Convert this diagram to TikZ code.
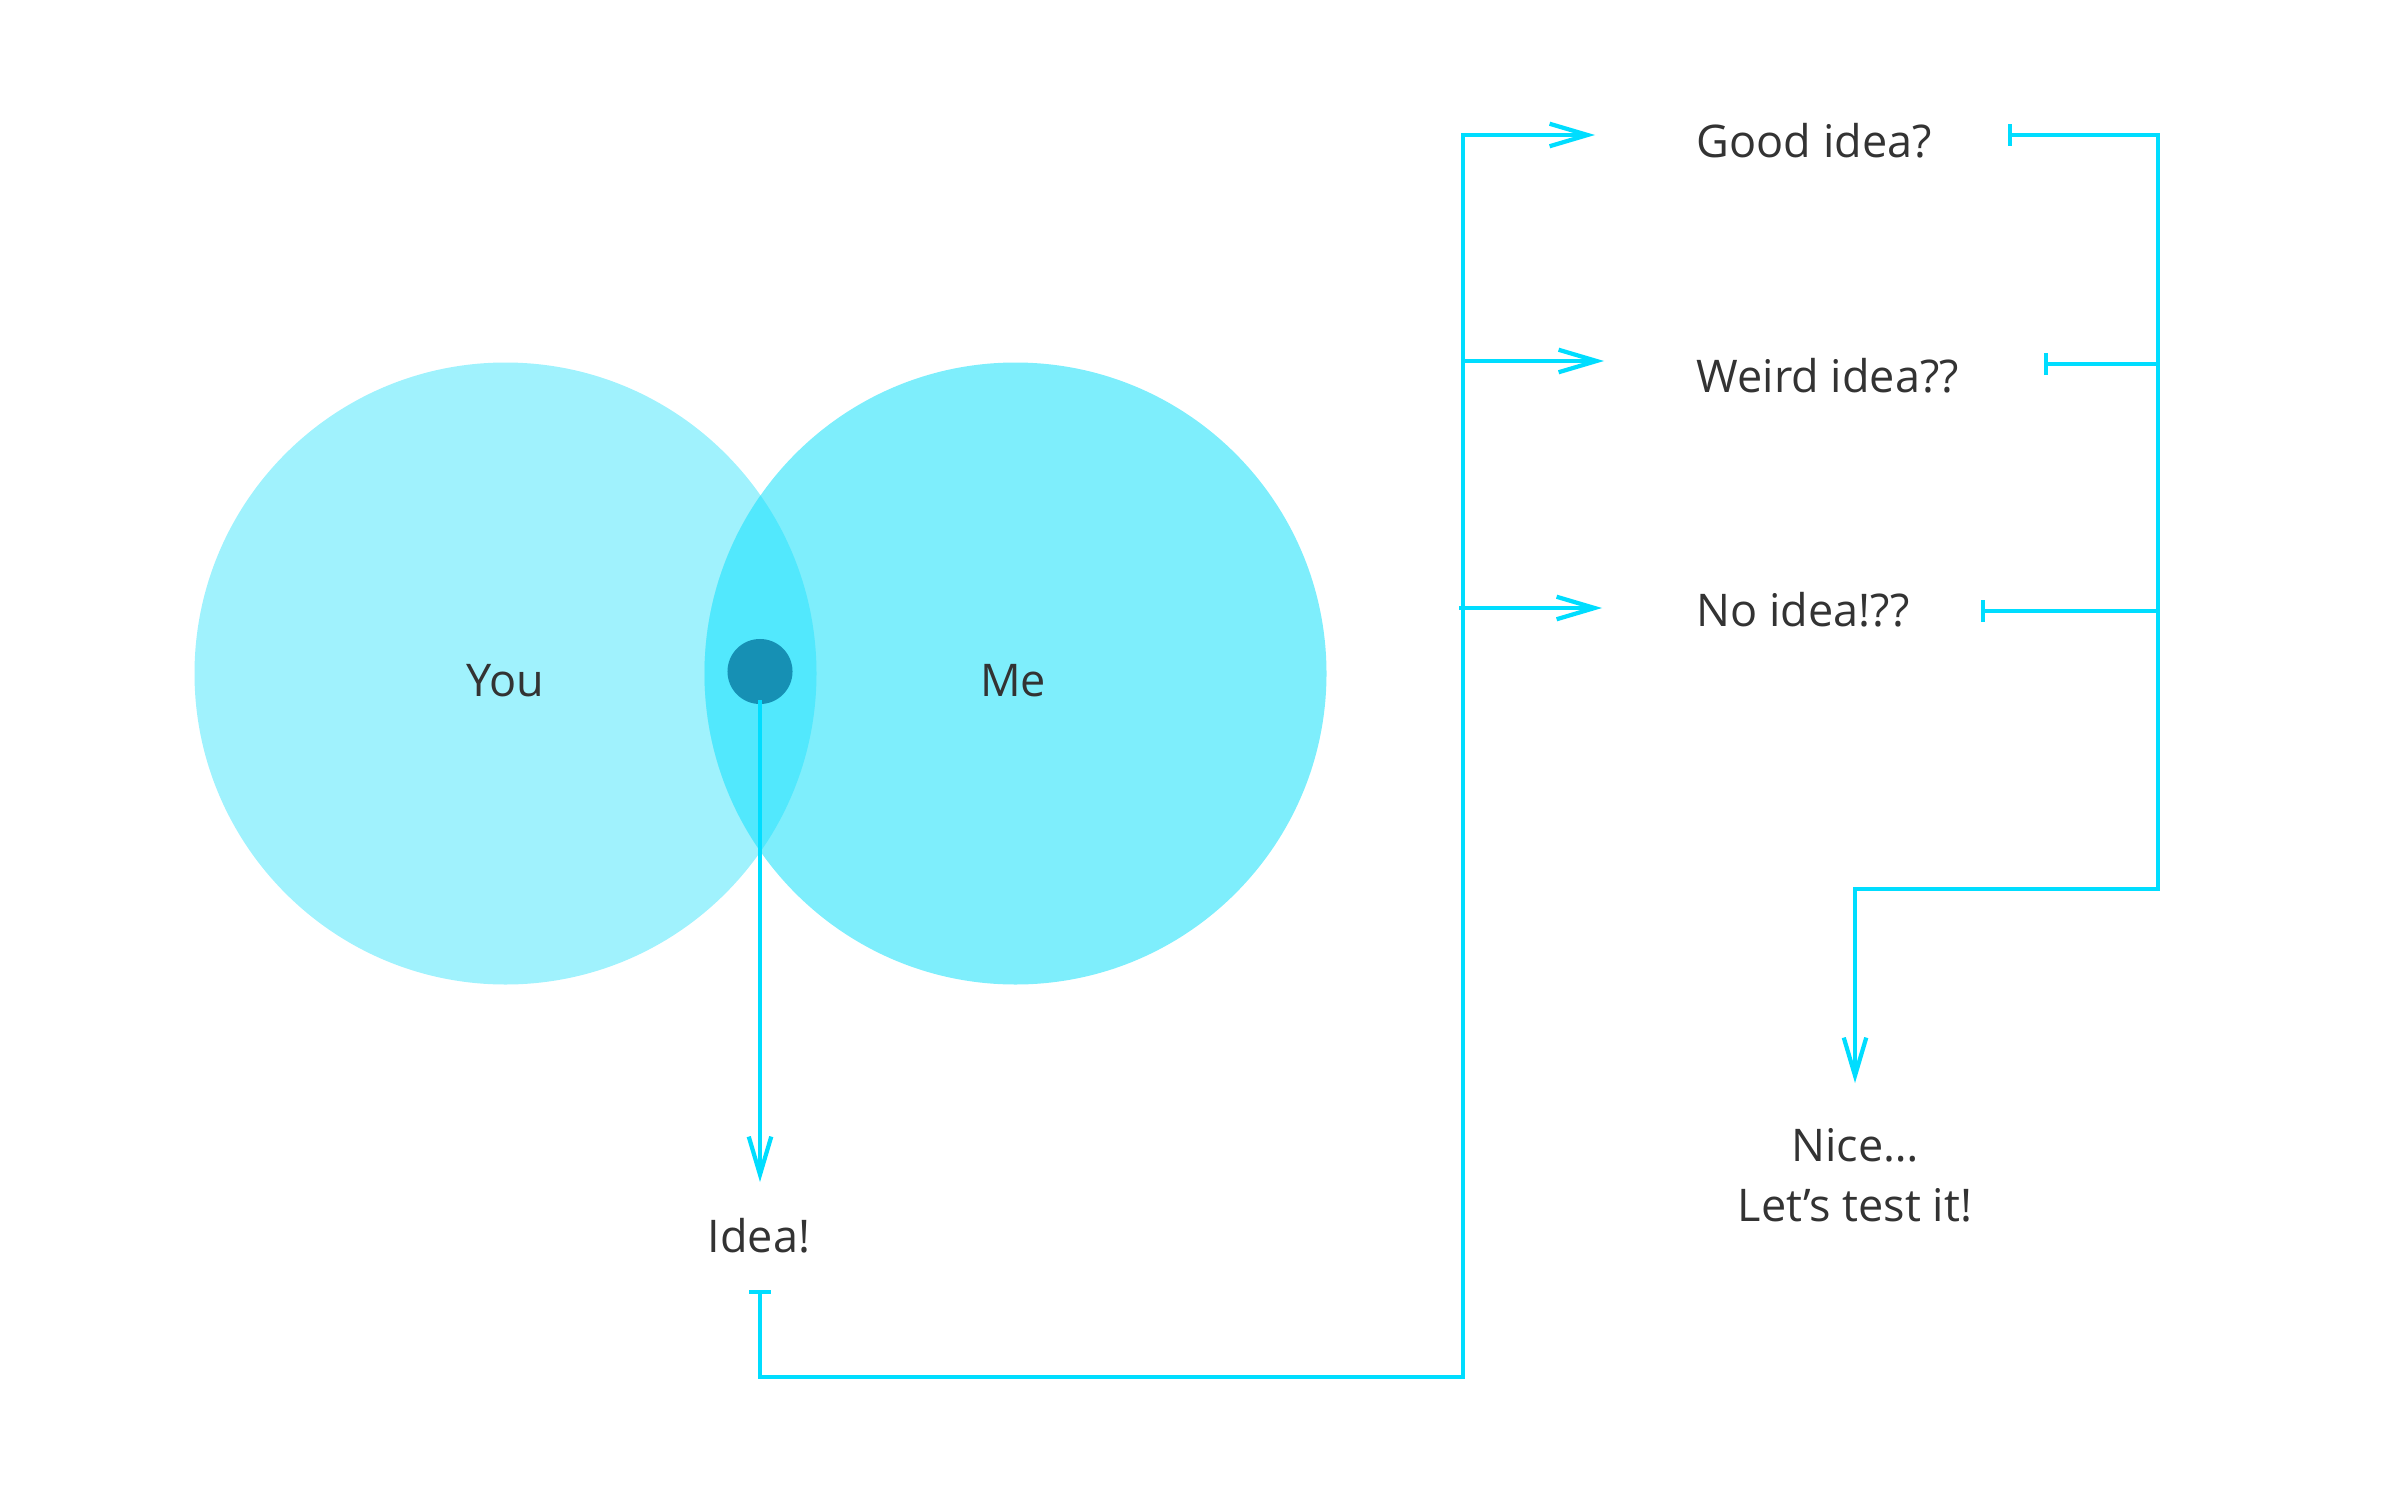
\documentclass[tikz,border=0pt]{standalone}
\usepackage{fontspec}
\setmainfont{Open Sans}
\usetikzlibrary{arrows.meta}
\definecolor{youfill}{HTML}{A0F2FD}
\definecolor{mefill}{HTML}{7EEEFC}
\definecolor{lensfill}{HTML}{52E8FD}
\definecolor{dotfill}{HTML}{1690B4}
\definecolor{wire}{HTML}{00DDFF}
\definecolor{ink}{HTML}{333333}
\tikzset{
  label/.style={text=ink, font=\fontsize{12.8}{16.8}\selectfont, inner sep=0pt},
  link/.style={draw=wire, line width=1.2pt},
  barbtip/.style={-{Straight Barb[length=10.8pt,width=6.4pt,line width=1.2pt]}},
  bartip/.style={{Bar[width=6pt,line width=1.2pt]}-},
  bartipend/.style={{Bar[width=6pt,line width=1.2pt]}-{Straight Barb[length=10.8pt,width=6.4pt,line width=1.2pt]}},
}
\begin{document}
\begin{tikzpicture}[x=0.01cm, y=-0.01cm]
\useasboundingbox (0,0) rectangle (2400,1500);

% the two sets and their overlap
\fill[youfill] (505.5,673.5) circle (311);
\fill[mefill] (1015.5,673.5) circle (311);
\begin{scope}
  \clip (505.5,673.5) circle (311);
  \fill[lensfill] (1015.5,673.5) circle (311);
\end{scope}
\node[circle, fill=dotfill, minimum size=65*0.2845pt, inner sep=0pt] (dot) at (760,671.5) {};

% labels
\node[label, anchor=base] (you) at (505,696) {You};
\node[label, anchor=base] (me) at (1013,696) {Me};
\node[label, anchor=base] (idea) at (759,1252) {Idea!};
\node[label, anchor=base west] (good) at (1696,158) {Good idea?};
\node[label, anchor=base west] (weird) at (1696,392) {Weird idea??};
\node[label, anchor=base west] (noidea) at (1696,626) {No idea!??};
\node[label, anchor=base, align=center] (nice) at (1855,1221) {Nice…\\Let’s test it!};

% routing points
\coordinate (dotout) at (760,700);
\coordinate (ideain) at (760,1182);
\coordinate (ideaout) at (760,1290);
\coordinate (busL) at (1463,1377);
\coordinate (goodin) at (1595,135);
\coordinate (weirdin) at (1604,361);
\coordinate (noideain) at (1602,608);
\coordinate (weirdtap) at (1463,361);
\coordinate (noideatap) at (1459,608);
\coordinate (goodout) at (2008,135);
\coordinate (weirdout) at (2044,364);
\coordinate (noideaout) at (1981,611);
\coordinate (busR) at (2158,889);
\coordinate (nicein) at (1855,1083);

% idea flow
\draw[link, barbtip] (dotout) -- (ideain);
\draw[link, bartipend] (ideaout) |- (busL) |- (goodin);
\draw[link, barbtip] (weirdtap) -- (weirdin);
\draw[link, barbtip] (noideatap) -- (noideain);

% feedback into the test
\draw[link, bartipend] (goodout) -| (busR) -| (nicein);
\draw[link, bartip] (weirdout) -- (weirdout -| busR);
\draw[link, bartip] (noideaout) -- (noideaout -| busR);
\end{tikzpicture}
\end{document}
